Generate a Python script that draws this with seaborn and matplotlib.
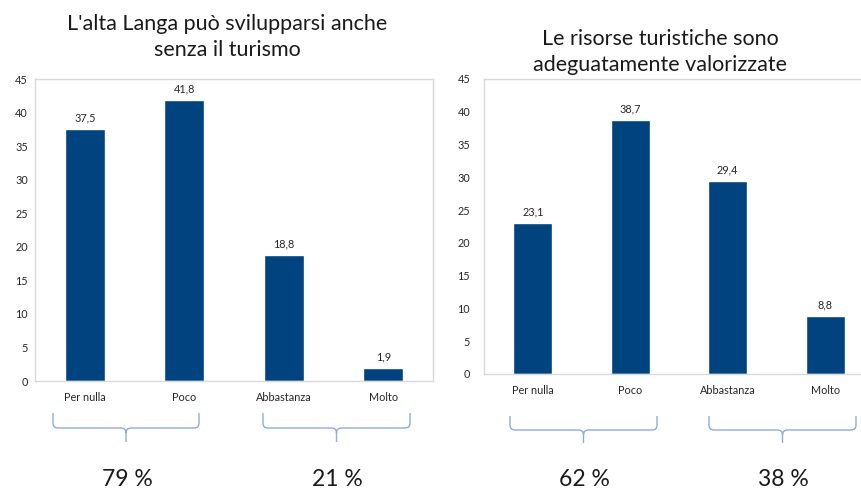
import numpy as np
import pandas as pd
import seaborn as sns
import matplotlib.pyplot as plt
from matplotlib.path import Path
from matplotlib.patches import PathPatch

categories = ["Per nulla", "Poco", "Abbastanza", "Molto"]
values_left = [37.5, 41.8, 18.8, 1.9]
values_right = [23.1, 38.7, 29.4, 8.8]
title_left = "L'alta Langa può svilupparsi anche\nsenza il turismo"
title_right = "Le risorse turistiche sono\nadeguatamente valorizzate"
y_ticks = [0, 5, 10, 15, 20, 25, 30, 35, 40, 45]

BAR_COLOR = "#00437F"
SPINE_COLOR = "#D9D9D9"
BRACE_COLOR = "#8FAADC"
W, H = 861, 491


def fx(x):
    return x / W


def fy(y):
    return 1 - y / H


def draw_panel(ax, values, ypad):
    df = pd.DataFrame({"cat": categories, "val": values})
    sns.barplot(data=df, x="cat", y="val", color=BAR_COLOR, width=0.4,
                saturation=1, ax=ax)
    ax.set_xlim(-0.5, 3.5)
    ax.set_ylim(0, 45)
    ax.set_yticks(y_ticks)
    ax.set_xlabel("")
    ax.set_ylabel("")
    ax.tick_params(axis="both", length=0, labelsize=7.8, colors="#262626")
    ax.tick_params(axis="y", pad=ypad)
    ax.tick_params(axis="x", pad=8)
    for s in ax.spines.values():
        s.set_visible(True)
        s.set_color(SPINE_COLOR)
        s.set_linewidth(1.0)
    for i, v in enumerate(values):
        ax.annotate(f"{v:.1f}".replace(".", ","), (i, v), xytext=(0, 4),
                    textcoords="offset points", ha="center", va="bottom",
                    fontsize=7.8, color="#262626")


def draw_brace(fig, x0, x1, ytop, ymid, ytip, r=5):
    xc = (x0 + x1) / 2
    pts = [(x0, ytop), (x0, ymid - r), (x0, ymid), (x0 + r, ymid),
           (xc - r, ymid), (xc, ymid), (xc, ymid + r), (xc, ytip),
           (xc, ymid + r), (xc, ymid), (xc + r, ymid),
           (x1 - r, ymid), (x1, ymid), (x1, ymid - r), (x1, ytop)]
    codes = [Path.MOVETO, Path.LINETO, Path.CURVE3, Path.CURVE3,
             Path.LINETO, Path.CURVE3, Path.CURVE3, Path.LINETO,
             Path.MOVETO, Path.CURVE3, Path.CURVE3,
             Path.LINETO, Path.CURVE3, Path.CURVE3, Path.LINETO]
    verts = [(fx(x), fy(y)) for x, y in pts]
    fig.patches.append(PathPatch(Path(verts, codes), transform=fig.transFigure,
                                 fill=False, edgecolor=BRACE_COLOR, lw=1.0))


def main():
    sns.set_theme(style="white")
    plt.rcParams["font.family"] = ["Lato", "DejaVu Sans"]

    fig = plt.figure(figsize=(8.61, 4.91), dpi=100)
    ax_l = fig.add_axes([fx(35), fy(381), 398 / W, 302 / H])
    ax_r = fig.add_axes([fx(484), fy(374), 390 / W, 295 / H])

    draw_panel(ax_l, values_left, ypad=5)
    draw_panel(ax_r, values_right, ypad=10)

    fig.text(fx(227), fy(37), title_left, ha="center", va="center",
             fontsize=15.5, linespacing=1.4, color="#1a1a1a")
    fig.text(fx(660), fy(52), title_right, ha="center", va="center",
             fontsize=15.5, linespacing=1.4, color="#1a1a1a")

    # groups: negative (first two) vs positive (last two)
    groups = [
        (values_left[:2], 53, 199, 413, 428, 442),
        (values_left[2:], 263, 410, 413, 428, 442),
        (values_right[:2], 510, 657, 416, 430, 443),
        (values_right[2:], 709, 856, 416, 430, 443),
    ]
    for vals, x0, x1, ytop, ymid, ytip in groups:
        draw_brace(fig, x0, x1, ytop, ymid, ytip)
        pct = int(round(sum(vals)))
        fig.text(fx((x0 + x1) / 2 + 1), fy(479), f"{pct} %", ha="center",
                 va="center", fontsize=16.5, color="#1a1a1a")

    fig.savefig("out.png", dpi=100)


if __name__ == "__main__":
    main()
